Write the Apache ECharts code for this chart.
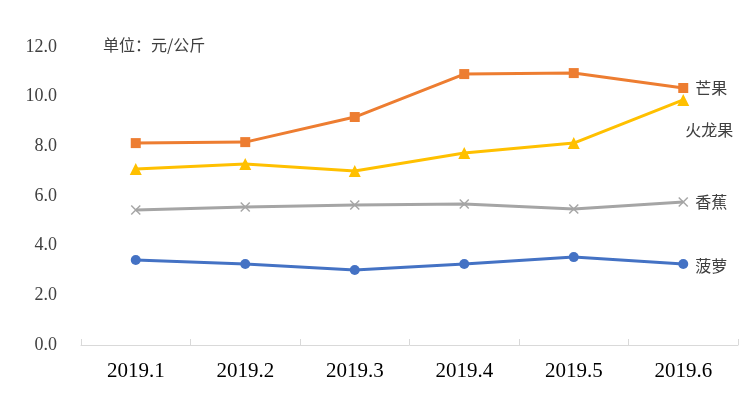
<!DOCTYPE html>
<html>
<head>
<meta charset="utf-8">
<script src="https://cdn.jsdelivr.net/npm/echarts@6/dist/echarts.min.js"></script>
<style>
  html, body { margin: 0; padding: 0; background: #fff; }
  #chart { width: 750px; height: 399px; }
</style>
</head>
<body>
<div id="chart"></div>
<script>
const months = ['2019.1', '2019.2', '2019.3', '2019.4', '2019.5', '2019.6'];
const mango = [8.13, 8.17, 9.18, 10.91, 10.95, 10.35];
const pitaya = [7.09, 7.29, 7.01, 7.73, 8.13, 9.87];
const banana = [5.44, 5.56, 5.64, 5.68, 5.48, 5.76];
const pineapple = [3.42, 3.26, 3.02, 3.26, 3.54, 3.26];
const unitText = '单位：元/公斤';

const cnFont = '"Noto Sans CJK SC", sans-serif';
const numFont = '"Liberation Serif", "DejaVu Serif", serif';
const crossPath = 'path://M0,1L1,0L5,4L9,0L10,1L6,5L10,9L9,10L5,6L1,10L0,9L4,5Z';

function makeSeries(name, data, color, symbol, size, labelOffset) {
    return {
        name: name,
        type: 'line',
        data: data,
        symbol: symbol,
        symbolSize: size,
        showAllSymbol: true,
        lineStyle: {color: color, width: 3},
        itemStyle: {color: color},
        endLabel: {
            show: true,
            formatter: name,
            color: '#404040',
            fontSize: 16,
            fontFamily: cnFont,
            distance: 0,
            offset: labelOffset
        }
    };
}

const chart = echarts.init(document.getElementById('chart'));
chart.setOption({
    animation: false,
    grid: {left: 81, right: 12, top: 47, bottom: 54},
    graphic: [{
        type: 'text',
        left: 103,
        top: 37,
        style: {text: unitText, fill: '#404040', fontSize: 16, fontFamily: cnFont}
    }],
    xAxis: {
        type: 'category',
        data: months,
        boundaryGap: true,
        axisLine: {lineStyle: {color: '#d9d9d9', width: 1}},
        axisTick: {show: true, inside: true, length: 6, lineStyle: {color: '#d9d9d9'}},
        axisLabel: {color: '#000', fontSize: 21, fontFamily: numFont, margin: 16},
        splitLine: {show: false}
    },
    yAxis: {
        type: 'value',
        min: 0,
        max: 12,
        interval: 2,
        axisLine: {show: false},
        axisTick: {show: false},
        splitLine: {show: false},
        axisLabel: {
            color: '#404040',
            fontSize: 18,
            fontFamily: numFont,
            margin: 24,
            formatter: v => v.toFixed(1)
        }
    },
    series: [
        makeSeries('芒果', mango, '#ED7D31', 'rect', 10, [12, 0]),
        makeSeries('火龙果', pitaya, '#FFC000', 'triangle', 12, [2, 30]),
        makeSeries('香蕉', banana, '#A5A5A5', crossPath, 10, [12, 0]),
        makeSeries('菠萝', pineapple, '#4472C4', 'circle', 10, [12, 2])
    ]
});
</script>
</body>
</html>
